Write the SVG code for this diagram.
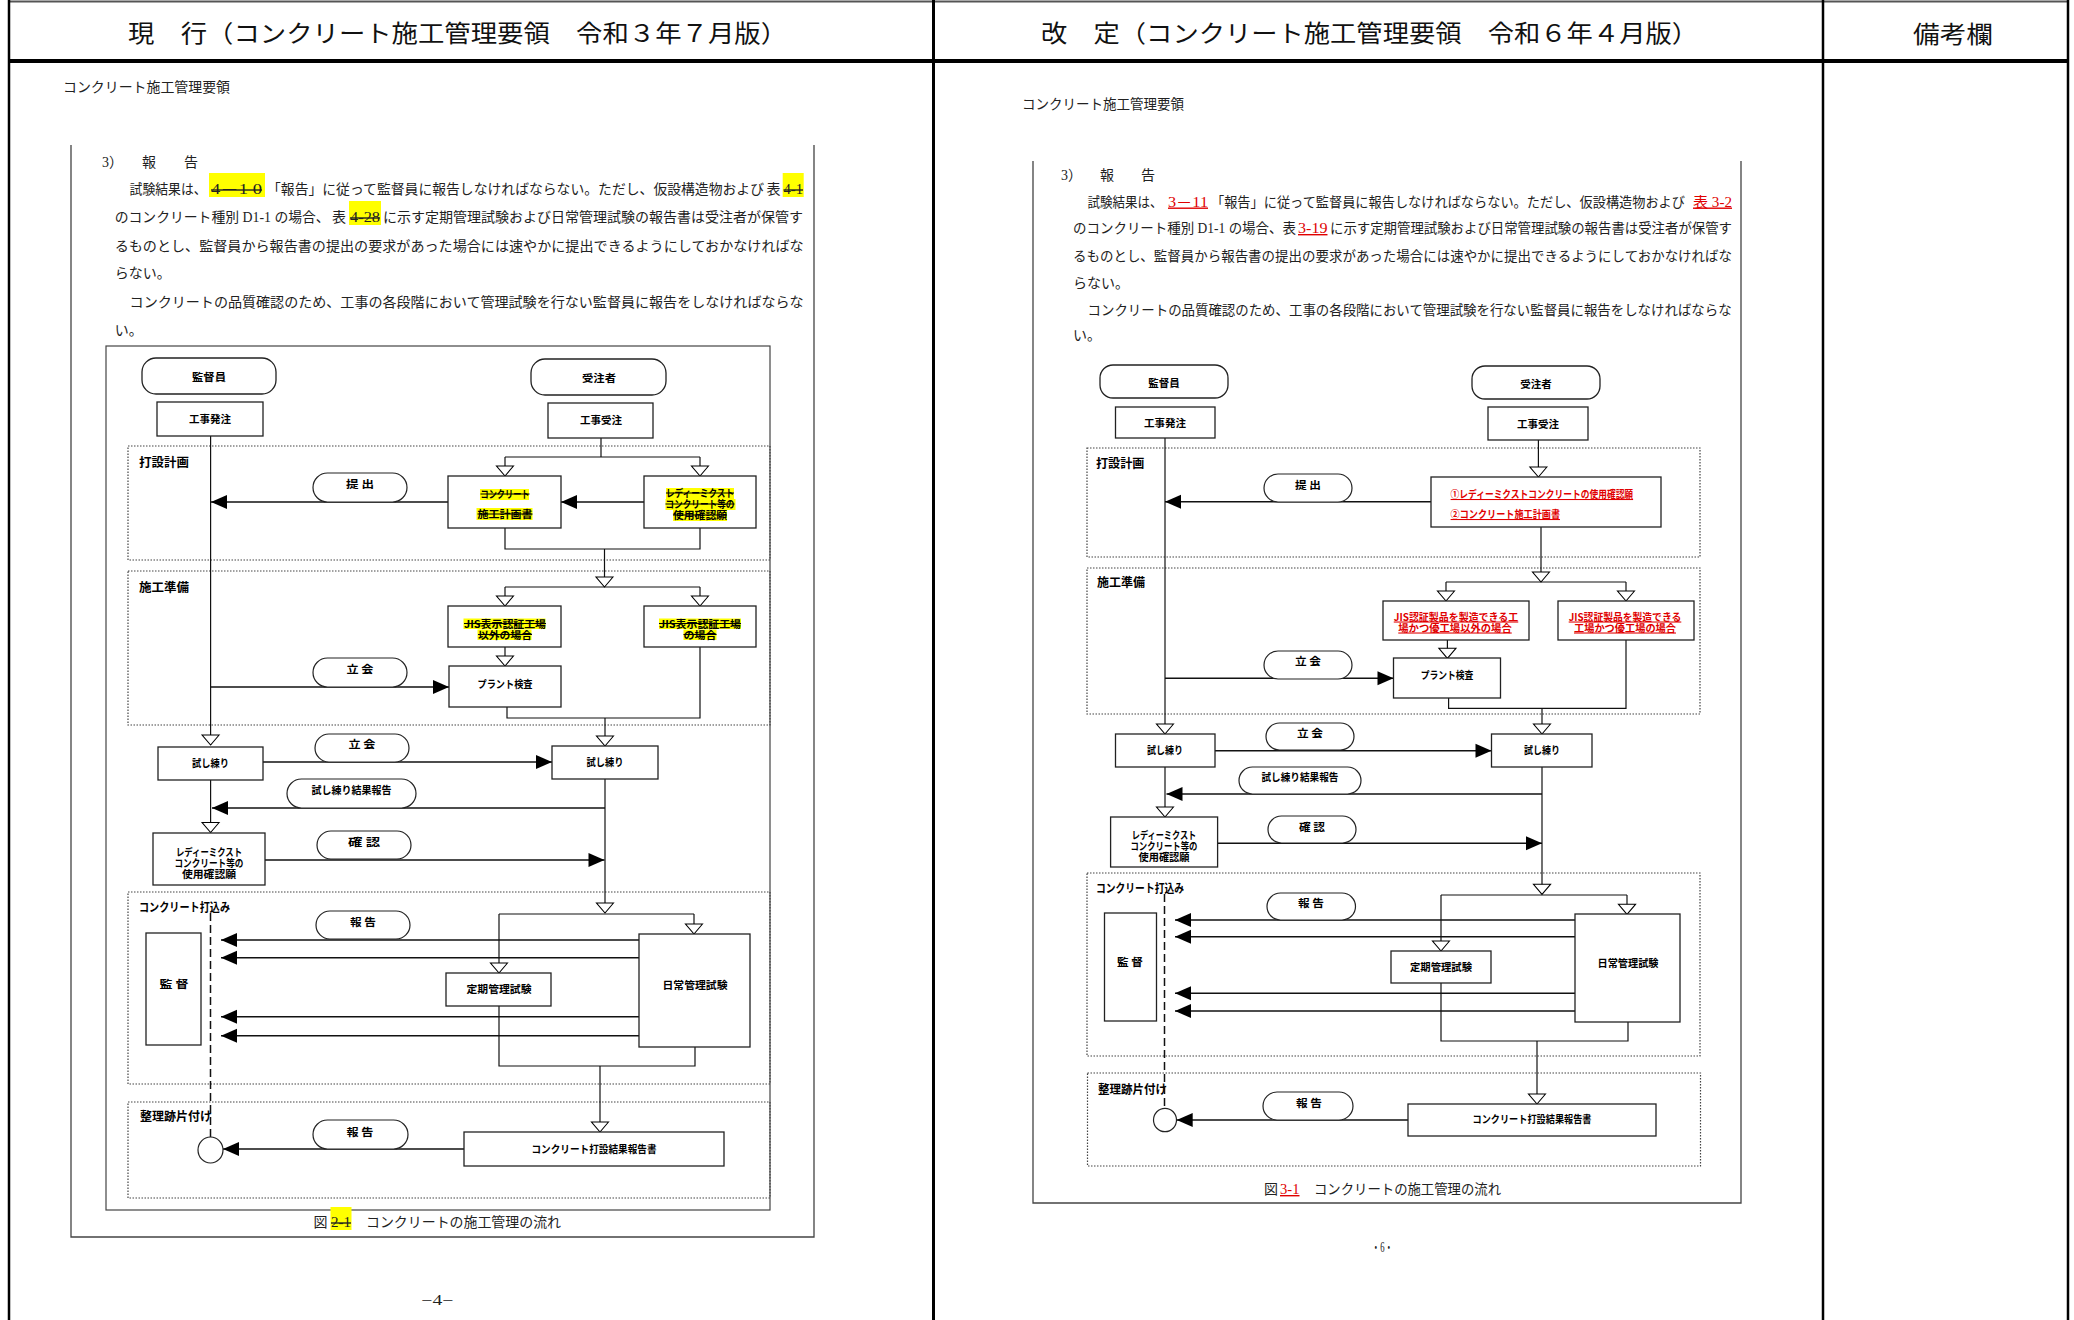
<svg xmlns="http://www.w3.org/2000/svg" width="2074" height="1320" viewBox="0 0 2074 1320">
<style>
.pg{fill:none;stroke:#444;stroke-width:1.3}
.sec{fill:none;stroke:#444;stroke-width:1.2;stroke-dasharray:1.5 1.5}
.bx{fill:#fff;stroke:#222;stroke-width:1.3}
.pl{fill:#fff;stroke:#222;stroke-width:1.2}
.t{font-family:"Noto Sans CJK JP","Noto Sans",sans-serif;font-weight:700;font-size:10.5px;fill:#000;text-anchor:middle}
.sl{font-family:"Noto Sans CJK JP","Noto Sans",sans-serif;font-weight:700;font-size:12px;fill:#000}
.b{font-family:"Liberation Serif","Noto Sans CJK JP",serif;font-size:14px;fill:#222}
.h{font-family:"Liberation Serif","Noto Sans CJK JP",serif;font-size:24px;fill:#111}
.c{fill:none;stroke:#111;stroke-width:1.2}
.a{fill:none;stroke:#111;stroke-width:1.6;marker-end:url(#fa)}
.o{fill:none;stroke:#111;stroke-width:1.2;marker-end:url(#ot)}
.d{fill:none;stroke:#111;stroke-width:1.5;stroke-dasharray:8 4}
.hl{fill:#ffff00}
.st{text-decoration:line-through}
.red{fill:#e00000;text-decoration:underline}
</style>
<defs>
<marker id="fa" markerUnits="userSpaceOnUse" markerWidth="17" markerHeight="15" refX="16" refY="7" orient="auto" overflow="visible"><path d="M0,0 L16,7 L0,14 z" fill="#000"/></marker>
<marker id="ot" markerUnits="userSpaceOnUse" markerWidth="12" markerHeight="19" refX="10" refY="8.5" orient="auto" overflow="visible"><path d="M0,0 L10,8.5 L0,17 z" fill="#fff" stroke="#000" stroke-width="1.1"/></marker>
</defs>
<rect width="2074" height="1320" fill="#fff"/>

<g id="table-frame">
<line x1="8" y1="1.5" x2="2069" y2="1.5" stroke="#555" stroke-width="2"/>
<line x1="9" y1="0" x2="9" y2="1320" stroke="#000" stroke-width="2.5"/>
<line x1="933.5" y1="0" x2="933.5" y2="1320" stroke="#000" stroke-width="3"/>
<line x1="1823" y1="0" x2="1823" y2="1320" stroke="#000" stroke-width="2.5"/>
<line x1="2068" y1="0" x2="2068" y2="1320" stroke="#000" stroke-width="2.5"/>
<line x1="8" y1="61" x2="2069" y2="61" stroke="#000" stroke-width="4"/>
<text class="h" x="128" y="42" textLength="659" lengthAdjust="spacingAndGlyphs">現　行（コンクリート施工管理要領　令和３年７月版）</text>
<text class="h" x="1041" y="42" textLength="657" lengthAdjust="spacingAndGlyphs">改　定（コンクリート施工管理要領　令和６年４月版）</text>
<text class="h" x="1913" y="43" textLength="80" lengthAdjust="spacingAndGlyphs">備考欄</text>
</g>

<g id="left-page">
<text class="b" x="63" y="92" font-size="13" textLength="167" lengthAdjust="spacingAndGlyphs">コンクリート施工管理要領</text>
<path class="pg" d="M71,145 V1237 H814 V145"/>
<text class="b" x="102" y="166.5">3）</text>
<text class="b" x="142" y="166.5">報</text>
<text class="b" x="184" y="166.5">告</text>
<text class="b" x="129.6" y="194" textLength="77" lengthAdjust="spacingAndGlyphs">試験結果は、</text>
<rect class="hl" x="209" y="173" width="56" height="24"/>
<text class="b st" x="211" y="194" textLength="51" lengthAdjust="spacingAndGlyphs">4－1 0</text>
<text class="b" x="267" y="194" font-size="13.7" textLength="497" lengthAdjust="spacingAndGlyphs">「報告」に従って監督員に報告しなければならない。ただし、仮設構造物および</text>
<text class="b" x="766.5" y="194" fill="#000">表</text>
<rect class="hl" x="782.7" y="173" width="21" height="24"/>
<text class="b st" x="783.5" y="194" textLength="19.5" lengthAdjust="spacingAndGlyphs">4-1</text>
<text class="b" x="114.7" y="222" font-size="13.7" textLength="215" lengthAdjust="spacingAndGlyphs">のコンクリート種別 D1-1 の場合、</text>
<text class="b" x="332" y="222" fill="#000">表</text>
<rect class="hl" x="349" y="201" width="32" height="24"/>
<text class="b st" x="350" y="222" textLength="30" lengthAdjust="spacingAndGlyphs">4-28</text>
<text class="b" x="383" y="222" textLength="420" lengthAdjust="spacingAndGlyphs">に示す定期管理試験および日常管理試験の報告書は受注者が保管す</text>
<text class="b" x="114.7" y="250.5" textLength="689" lengthAdjust="spacingAndGlyphs">るものとし、監督員から報告書の提出の要求があった場合には速やかに提出できるようにしておかなければな</text>
<text class="b" x="114.7" y="278">らない。</text>
<text class="b" x="129.6" y="306.5" textLength="674" lengthAdjust="spacingAndGlyphs">コンクリートの品質確認のため、工事の各段階において管理試験を行ない監督員に報告をしなければならな</text>
<text class="b" x="114.7" y="335">い。</text>
<rect id="left-figure-frame" x="106" y="346" width="664" height="864" fill="none" stroke="#444" stroke-width="1.2"/>
<text class="b" x="313.5" y="1227">図</text>
<rect class="hl" x="330.5" y="1207" width="21" height="23"/>
<text class="b st" x="331" y="1227" textLength="20" lengthAdjust="spacingAndGlyphs">2-1</text>
<text class="b" x="366" y="1227" textLength="195" lengthAdjust="spacingAndGlyphs">コンクリートの施工管理の流れ</text>
<text class="b" x="421.5" y="1305" textLength="32" lengthAdjust="spacingAndGlyphs">−4−</text>
</g>

<g id="left-sections">
<rect class="sec" x="128" y="446" width="642" height="114"/>
<text class="sl" x="139" y="466.5" textLength="50" lengthAdjust="spacingAndGlyphs">打設計画</text>
<rect class="sec" x="128" y="571" width="642" height="154"/>
<text class="sl" x="139" y="591.5" textLength="50" lengthAdjust="spacingAndGlyphs">施工準備</text>
<rect class="sec" x="128" y="892" width="642" height="192"/>
<text class="sl" x="139" y="912" textLength="91" lengthAdjust="spacingAndGlyphs">コンクリート打込み</text>
<rect class="sec" x="128" y="1102" width="642" height="96"/>
<text class="sl" x="140" y="1121" textLength="72" lengthAdjust="spacingAndGlyphs">整理跡片付け</text>
</g>

<g id="left-connectors">
<path class="o" d="M210.6,436 V745"/>
<path class="o" d="M210.6,780 V832.5"/>
<path class="c" d="M601,438 V457 M505,457 H700"/>
<path class="o" d="M505,457 V476"/>
<path class="o" d="M700,457 V476"/>
<path class="a" d="M644,502 H561"/>
<path class="a" d="M448,502 H211"/>
<path class="c" d="M505,528 V549 H700 V528"/>
<path class="o" d="M604.5,549 V587"/>
<path class="c" d="M505,587 H700"/>
<path class="o" d="M505,587 V606"/>
<path class="o" d="M700,587 V606"/>
<path class="o" d="M505,647 V666"/>
<path class="a" d="M211,687 H449"/>
<path class="c" d="M507,707 V718 H700 V647"/>
<path class="o" d="M605,718 V746"/>
<path class="a" d="M263,762 H552"/>
<path class="o" d="M605,779 V913"/>
<path class="a" d="M605,808 H212"/>
<path class="a" d="M265,860 H604.5"/>
<path class="c" d="M499,914 H694"/>
<path class="o" d="M499,914 V973"/>
<path class="o" d="M694,914 V934"/>
<path class="a" d="M639,940 H221"/>
<path class="a" d="M639,957.7 H221"/>
<path class="a" d="M639,1016.7 H221"/>
<path class="a" d="M639,1035.7 H221"/>
<path class="d" d="M210.5,913 V1137"/>
<path class="c" d="M499,1006 V1066 H695 V1047"/>
<path class="o" d="M600,1066 V1132"/>
<path class="a" d="M464,1149 H223"/>
</g>

<g id="L-kantokuin"><rect class="bx" x="142" y="358" width="134" height="36" rx="14"/><text class="t" x="209" y="381" font-size="11" textLength="34" lengthAdjust="spacingAndGlyphs">監督員</text></g>
<g id="L-juchusha"><rect class="bx" x="531" y="359" width="135" height="36" rx="14"/><text class="t" x="599" y="382" font-size="11" textLength="34" lengthAdjust="spacingAndGlyphs">受注者</text></g>
<g id="L-kouji-hatchu"><rect class="bx" x="157" y="402" width="106" height="34"/><text class="t" x="210" y="423" textLength="42" lengthAdjust="spacingAndGlyphs">工事発注</text></g>
<g id="L-kouji-juchu"><rect class="bx" x="548" y="403" width="105" height="35"/><text class="t" x="601" y="424" textLength="42" lengthAdjust="spacingAndGlyphs">工事受注</text></g>
<g id="L-sekou-keikaku"><rect class="bx" x="448" y="476" width="113" height="52"/>
<rect class="hl" x="480" y="489" width="49" height="11"/><rect class="hl" x="476.5" y="508" width="56" height="12"/>
<text class="t st" x="505" y="498" font-size="10" textLength="49" lengthAdjust="spacingAndGlyphs">コンクリート</text>
<text class="t st" x="505" y="518" font-size="10.5" textLength="55" lengthAdjust="spacingAndGlyphs">施工計画書</text></g>
<g id="L-shiyou-kakunin-1"><rect class="bx" x="644" y="476" width="112" height="52"/>
<rect class="hl" x="666" y="488" width="68" height="11"/><rect class="hl" x="665.5" y="499" width="70" height="11"/><rect class="hl" x="673" y="510" width="54" height="11"/>
<text class="t st" x="700" y="497" font-size="9.5" textLength="68" lengthAdjust="spacingAndGlyphs">レディーミクスト</text>
<text class="t st" x="700" y="508" font-size="9.5" textLength="69" lengthAdjust="spacingAndGlyphs">コンクリート等の</text>
<text class="t st" x="700" y="519" font-size="9.5" textLength="54" lengthAdjust="spacingAndGlyphs">使用確認願</text></g>
<g id="L-teishutsu"><rect class="pl" x="313" y="473" width="94" height="29" rx="14.5"/><text class="t" x="360" y="488" textLength="28" lengthAdjust="spacingAndGlyphs">提 出</text></g>
<g id="L-jis-igai"><rect class="bx" x="448" y="606" width="113" height="41"/>
<rect class="hl" x="463.5" y="618.5" width="82" height="10.5"/><rect class="hl" x="477.5" y="629.5" width="54" height="10.5"/>
<text class="t st" x="505" y="627.5" font-size="9.5" textLength="82" lengthAdjust="spacingAndGlyphs">JIS表示認証工場</text>
<text class="t st" x="505" y="638.5" font-size="9.5" textLength="54" lengthAdjust="spacingAndGlyphs">以外の場合</text></g>
<g id="L-jis"><rect class="bx" x="644" y="606" width="112" height="41"/>
<rect class="hl" x="659" y="618.5" width="82" height="10.5"/><rect class="hl" x="683.5" y="629.5" width="33" height="10.5"/>
<text class="t st" x="700" y="627.5" font-size="9.5" textLength="82" lengthAdjust="spacingAndGlyphs">JIS表示認証工場</text>
<text class="t st" x="700" y="638.5" font-size="9.5" textLength="33" lengthAdjust="spacingAndGlyphs">の場合</text></g>
<g id="L-plant"><rect class="bx" x="449" y="666" width="112" height="41"/><text class="t" x="505" y="688" textLength="55" lengthAdjust="spacingAndGlyphs">プラント検査</text></g>
<g id="L-tachiai-1"><rect class="pl" x="313" y="658" width="94" height="29" rx="14.5"/><text class="t" x="360" y="673" textLength="27" lengthAdjust="spacingAndGlyphs">立 会</text></g>
<g id="L-shineri-1"><rect class="bx" x="158" y="747" width="105" height="33"/><text class="t" x="210.6" y="767" textLength="37" lengthAdjust="spacingAndGlyphs">試し練り</text></g>
<g id="L-shineri-2"><rect class="bx" x="552" y="746" width="106" height="33"/><text class="t" x="605" y="766" textLength="37" lengthAdjust="spacingAndGlyphs">試し練り</text></g>
<g id="L-tachiai-2"><rect class="pl" x="315" y="734" width="94" height="28" rx="14"/><text class="t" x="362" y="748" textLength="27" lengthAdjust="spacingAndGlyphs">立 会</text></g>
<g id="L-kekka-houkoku"><rect class="pl" x="287" y="779" width="129" height="29" rx="14.5"/><text class="t" x="351.5" y="794" textLength="80" lengthAdjust="spacingAndGlyphs">試し練り結果報告</text></g>
<g id="L-shiyou-kakunin-2"><rect class="bx" x="153" y="833" width="112" height="52"/>
<text class="t" x="209" y="855.5" font-size="9.5" textLength="66" lengthAdjust="spacingAndGlyphs">レディーミクスト</text>
<text class="t" x="209" y="866.5" font-size="9.5" textLength="69" lengthAdjust="spacingAndGlyphs">コンクリート等の</text>
<text class="t" x="209" y="877.5" font-size="9.5" textLength="54" lengthAdjust="spacingAndGlyphs">使用確認願</text></g>
<g id="L-kakunin"><rect class="pl" x="317" y="831" width="94" height="28" rx="14"/><text class="t" x="364" y="846" textLength="32" lengthAdjust="spacingAndGlyphs">確 認</text></g>
<g id="L-nichijou"><rect class="bx" x="639" y="934" width="111" height="113"/><text class="t" x="695" y="989" textLength="65" lengthAdjust="spacingAndGlyphs">日常管理試験</text></g>
<g id="L-teiki"><rect class="bx" x="446" y="973" width="105" height="33"/><text class="t" x="499" y="993" textLength="65" lengthAdjust="spacingAndGlyphs">定期管理試験</text></g>
<g id="L-kantoku"><rect class="bx" x="146" y="933" width="55" height="112"/><text class="t" x="174" y="988" textLength="29" lengthAdjust="spacingAndGlyphs">監 督</text></g>
<g id="L-houkoku-1"><rect class="pl" x="316" y="911" width="94" height="28" rx="14"/><text class="t" x="363" y="926" textLength="26" lengthAdjust="spacingAndGlyphs">報 告</text></g>
<g id="L-houkoku-2"><rect class="pl" x="313" y="1120" width="95" height="29" rx="14.5"/><text class="t" x="360" y="1136" textLength="27" lengthAdjust="spacingAndGlyphs">報 告</text></g>
<g id="L-dasetsu-houkokusho"><rect class="bx" x="464" y="1132" width="260" height="34"/><text class="t" x="594" y="1153" textLength="125" lengthAdjust="spacingAndGlyphs">コンクリート打設結果報告書</text></g>
<g id="L-end"><ellipse cx="210.5" cy="1150" rx="12.5" ry="13" fill="#fff" stroke="#222" stroke-width="1.2"/></g>

<g id="right-page">
<text class="b" x="1022" y="109" font-size="13" textLength="162" lengthAdjust="spacingAndGlyphs">コンクリート施工管理要領</text>
<path class="pg" d="M1033,161 V1203 H1741 V161"/>
<text class="b" x="1061" y="180" font-size="13.5">3）</text>
<text class="b" x="1100" y="180" font-size="13.5">報</text>
<text class="b" x="1141" y="180" font-size="13.5">告</text>
<text class="b" x="1087.6" y="206.5" font-size="12.5" textLength="75" lengthAdjust="spacingAndGlyphs">試験結果は、</text>
<text class="b red" x="1168" y="206.5" font-size="13.5" textLength="40" lengthAdjust="spacingAndGlyphs">3－11</text>
<text class="b" x="1211" y="206.5" font-size="13" textLength="474" lengthAdjust="spacingAndGlyphs">「報告」に従って監督員に報告しなければならない。ただし、仮設構造物および</text>
<text class="b red" x="1693" y="206.5" font-size="13" textLength="39" lengthAdjust="spacingAndGlyphs">表 3-2</text>
<text class="b" x="1073" y="233" font-size="13.1" textLength="223" lengthAdjust="spacingAndGlyphs">のコンクリート種別 D1-1 の場合、表</text>
<text class="b red" x="1298" y="233" font-size="13.5" textLength="29.5" lengthAdjust="spacingAndGlyphs">3-19</text>
<text class="b" x="1330" y="233" font-size="13.4" textLength="402" lengthAdjust="spacingAndGlyphs">に示す定期管理試験および日常管理試験の報告書は受注者が保管す</text>
<text class="b" x="1073" y="261" font-size="13.45" textLength="659" lengthAdjust="spacingAndGlyphs">るものとし、監督員から報告書の提出の要求があった場合には速やかに提出できるようにしておかなければな</text>
<text class="b" x="1073" y="288" font-size="13.5">らない。</text>
<text class="b" x="1087.6" y="315" font-size="13.4" textLength="644" lengthAdjust="spacingAndGlyphs">コンクリートの品質確認のため、工事の各段階において管理試験を行ない監督員に報告をしなければならな</text>
<text class="b" x="1073" y="340" font-size="13.5">い。</text>
<text class="b" x="1264" y="1194" font-size="13.5">図</text>
<text class="b red" x="1280" y="1194" font-size="13.5" textLength="19.5" lengthAdjust="spacingAndGlyphs">3-1</text>
<text class="b" x="1314" y="1194" font-size="13.3" textLength="187" lengthAdjust="spacingAndGlyphs">コンクリートの施工管理の流れ</text>
<text class="b" x="1371.6" y="1252" font-size="13.5" textLength="21.5" lengthAdjust="spacingAndGlyphs">・6・</text>
</g>

<g id="right-sections">
<rect class="sec" x="1087" y="448" width="613" height="109"/>
<text class="sl" x="1096" y="468" textLength="48.5" lengthAdjust="spacingAndGlyphs">打設計画</text>
<rect class="sec" x="1087" y="568" width="613" height="146"/>
<text class="sl" x="1097" y="587" textLength="48" lengthAdjust="spacingAndGlyphs">施工準備</text>
<rect class="sec" x="1087" y="873" width="613" height="183"/>
<text class="sl" x="1096" y="893" textLength="88" lengthAdjust="spacingAndGlyphs">コンクリート打込み</text>
<rect class="sec" x="1087.5" y="1073" width="613" height="93"/>
<text class="sl" x="1098" y="1094" textLength="69" lengthAdjust="spacingAndGlyphs">整理跡片付け</text>
</g>

<g id="right-connectors">
<path class="o" d="M1165,438 V734"/>
<path class="o" d="M1165,767 V817"/>
<path class="o" d="M1538.4,440 V477"/>
<path class="a" d="M1431,501.7 H1165"/>
<path class="o" d="M1541,527 V582"/>
<path class="c" d="M1446,582 H1626"/>
<path class="o" d="M1446,582 V601"/>
<path class="o" d="M1626,582 V601"/>
<path class="o" d="M1447.4,640 V658.3"/>
<path class="a" d="M1165,678.3 H1393.5"/>
<path class="c" d="M1448.6,698 V708.3 H1626 V640"/>
<path class="o" d="M1542,708.3 V734"/>
<path class="a" d="M1215,750.7 H1491.5"/>
<path class="o" d="M1542,767 V894.3"/>
<path class="a" d="M1542,794 H1166.5"/>
<path class="a" d="M1217.6,843.3 H1542"/>
<path class="c" d="M1441,895 H1627"/>
<path class="o" d="M1441,895 V951"/>
<path class="o" d="M1627,895 V914.3"/>
<path class="a" d="M1575,920 H1175"/>
<path class="a" d="M1575,936.7 H1175"/>
<path class="a" d="M1575,993.3 H1175"/>
<path class="a" d="M1575,1011 H1175"/>
<path class="d" d="M1164.5,894 V1108.3"/>
<path class="c" d="M1441,983 V1041 H1628 V1022"/>
<path class="o" d="M1537,1041 V1104"/>
<path class="a" d="M1408,1120 H1176.7"/>
</g>

<g id="R-kantokuin"><rect class="bx" x="1100" y="365" width="128" height="33" rx="13"/><text class="t" x="1164" y="387" textLength="31.5" lengthAdjust="spacingAndGlyphs">監督員</text></g>
<g id="R-juchusha"><rect class="bx" x="1472" y="366" width="128" height="33" rx="13"/><text class="t" x="1536" y="387.5" textLength="31.5" lengthAdjust="spacingAndGlyphs">受注者</text></g>
<g id="R-kouji-hatchu"><rect class="bx" x="1115.5" y="407" width="99.5" height="31"/><text class="t" x="1165" y="426.5" textLength="42" lengthAdjust="spacingAndGlyphs">工事発注</text></g>
<g id="R-kouji-juchu"><rect class="bx" x="1488" y="407" width="100" height="33"/><text class="t" x="1538" y="428" textLength="42" lengthAdjust="spacingAndGlyphs">工事受注</text></g>
<g id="R-teishutsu-docs"><rect class="bx" x="1431" y="477" width="230" height="50"/>
<text class="t red" x="1450.6" y="498" font-size="10" style="text-anchor:start" textLength="182.5" lengthAdjust="spacingAndGlyphs">①レディーミクストコンクリートの使用確認願</text>
<text class="t red" x="1450.6" y="518" font-size="10" style="text-anchor:start" textLength="109.4" lengthAdjust="spacingAndGlyphs">②コンクリート施工計画書</text></g>
<g id="R-teishutsu"><rect class="pl" x="1264" y="474" width="88" height="28" rx="14"/><text class="t" x="1308" y="488.5" textLength="26" lengthAdjust="spacingAndGlyphs">提 出</text></g>
<g id="R-jis-igai"><rect class="bx" x="1383" y="601" width="146" height="39"/>
<text class="t red" x="1456" y="620.5" font-size="9.5" textLength="124.5" lengthAdjust="spacingAndGlyphs">JIS認証製品を製造できる工</text>
<text class="t red" x="1455" y="631.5" font-size="9.5" textLength="113.5" lengthAdjust="spacingAndGlyphs">場かつ優工場以外の場合</text></g>
<g id="R-jis"><rect class="bx" x="1558" y="601" width="136" height="39"/>
<text class="t red" x="1625" y="620.5" font-size="9.5" textLength="112.6" lengthAdjust="spacingAndGlyphs">JIS認証製品を製造できる</text>
<text class="t red" x="1625" y="631.5" font-size="9.5" textLength="102" lengthAdjust="spacingAndGlyphs">工場かつ優工場の場合</text></g>
<g id="R-plant"><rect class="bx" x="1393.5" y="658" width="107" height="40"/><text class="t" x="1447" y="679" textLength="52.7" lengthAdjust="spacingAndGlyphs">プラント検査</text></g>
<g id="R-tachiai-1"><rect class="pl" x="1264" y="651" width="88" height="28" rx="14"/><text class="t" x="1308" y="665" textLength="26" lengthAdjust="spacingAndGlyphs">立 会</text></g>
<g id="R-shineri-1"><rect class="bx" x="1115.5" y="734" width="99.5" height="33"/><text class="t" x="1165" y="754" textLength="36" lengthAdjust="spacingAndGlyphs">試し練り</text></g>
<g id="R-shineri-2"><rect class="bx" x="1491.5" y="734" width="100.5" height="33"/><text class="t" x="1542" y="754" textLength="36" lengthAdjust="spacingAndGlyphs">試し練り</text></g>
<g id="R-tachiai-2"><rect class="pl" x="1266" y="723" width="88" height="27" rx="13.5"/><text class="t" x="1310" y="737" textLength="26" lengthAdjust="spacingAndGlyphs">立 会</text></g>
<g id="R-kekka-houkoku"><rect class="pl" x="1239" y="767" width="122" height="27" rx="13.5"/><text class="t" x="1300" y="781" textLength="77" lengthAdjust="spacingAndGlyphs">試し練り結果報告</text></g>
<g id="R-shiyou-kakunin"><rect class="bx" x="1110.6" y="817" width="107" height="50"/>
<text class="t" x="1164" y="838.5" font-size="9.5" textLength="64.5" lengthAdjust="spacingAndGlyphs">レディーミクスト</text>
<text class="t" x="1164" y="849.5" font-size="9.5" textLength="67" lengthAdjust="spacingAndGlyphs">コンクリート等の</text>
<text class="t" x="1164" y="860.5" font-size="9.5" textLength="51" lengthAdjust="spacingAndGlyphs">使用確認願</text></g>
<g id="R-kakunin"><rect class="pl" x="1268" y="816" width="88" height="27" rx="13.5"/><text class="t" x="1312" y="831" textLength="26" lengthAdjust="spacingAndGlyphs">確 認</text></g>
<g id="R-nichijou"><rect class="bx" x="1575" y="914" width="105" height="108"/><text class="t" x="1628" y="967" textLength="61" lengthAdjust="spacingAndGlyphs">日常管理試験</text></g>
<g id="R-teiki"><rect class="bx" x="1391" y="951" width="100" height="32"/><text class="t" x="1441" y="971" textLength="62" lengthAdjust="spacingAndGlyphs">定期管理試験</text></g>
<g id="R-kantoku"><rect class="bx" x="1104.5" y="913" width="52" height="108"/><text class="t" x="1130" y="966" textLength="26" lengthAdjust="spacingAndGlyphs">監 督</text></g>
<g id="R-houkoku-1"><rect class="pl" x="1267" y="893" width="88.5" height="27" rx="13.5"/><text class="t" x="1311" y="907" textLength="26" lengthAdjust="spacingAndGlyphs">報 告</text></g>
<g id="R-houkoku-2"><rect class="pl" x="1263" y="1092" width="90" height="28" rx="14"/><text class="t" x="1309" y="1107" textLength="26" lengthAdjust="spacingAndGlyphs">報 告</text></g>
<g id="R-dasetsu-houkokusho"><rect class="bx" x="1408" y="1104" width="248" height="32"/><text class="t" x="1532" y="1123" textLength="119" lengthAdjust="spacingAndGlyphs">コンクリート打設結果報告書</text></g>
<g id="R-end"><ellipse cx="1165" cy="1120" rx="11.5" ry="11.7" fill="#fff" stroke="#222" stroke-width="1.2"/></g>
</svg>
